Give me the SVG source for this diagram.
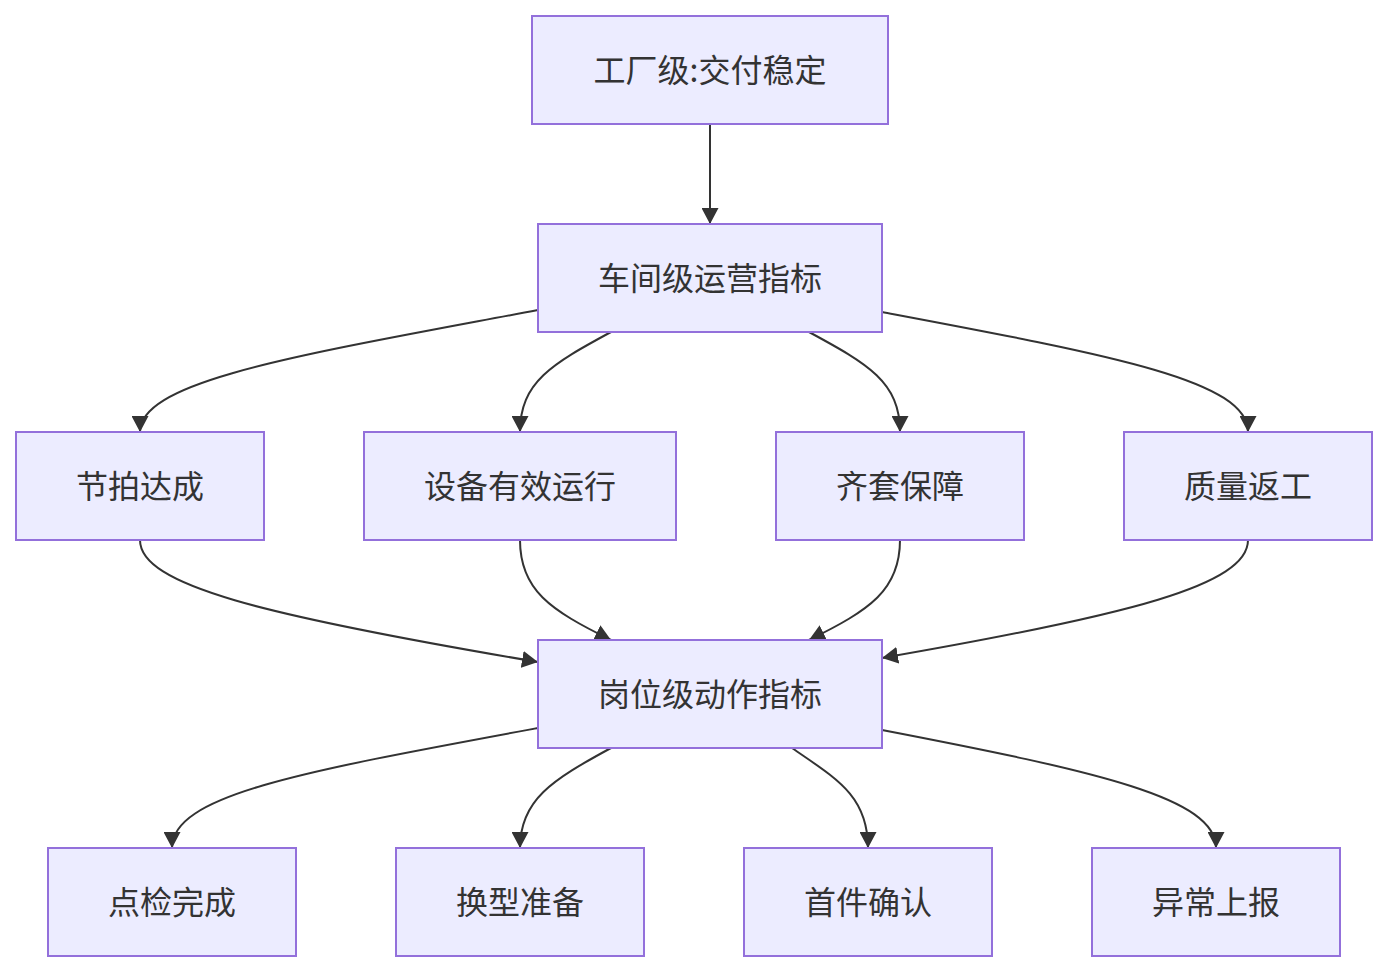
<svg xmlns="http://www.w3.org/2000/svg" width="1388" height="972" viewBox="0 0 1388 972">
<style>
.node rect{fill:#ECECFF;stroke:#9370DB;stroke-width:2}
.node text{font-family:"Noto Sans CJK SC","Noto Sans",sans-serif;font-size:32px;fill:#333;text-anchor:middle;dominant-baseline:central}
.edges path{fill:none;stroke:#333;stroke-width:2;marker-end:url(#arrow)}
</style>
<defs>
<marker id="arrow" viewBox="0 0 10 10" refX="10" refY="5" markerWidth="16" markerHeight="17" markerUnits="userSpaceOnUse" orient="auto" preserveAspectRatio="none">
<path d="M0,0 L10,5 L0,10 z" fill="#333"/>
</marker>
</defs>
<rect width="1388" height="972" fill="#fff"/>
<g class="edges">
<path d="M710,124 L710,224"/>
<path d="M538,310 C300,355 140,380 140,432"/>
<path d="M611,332 C552,364 520,382 520,432"/>
<path d="M809,332 C868,364 900,382 900,432"/>
<path d="M882,312 C1110,355 1248,380 1248,432"/>
<path d="M140,540 C140,585 260,615 538,662"/>
<path d="M520,540 C520,590 550,610 611,640"/>
<path d="M900,540 C900,590 870,610 809,640"/>
<path d="M1248,540 C1248,585 1130,615 882,658"/>
<path d="M538,728 C300,772 172,795 172,848"/>
<path d="M611,748 C552,780 520,800 520,848"/>
<path d="M792,748 C835,778 868,795 868,848"/>
<path d="M882,730 C1100,772 1216,798 1216,848"/>
</g>
<g id="n-factory" class="node"><rect x="532" y="16" width="356" height="108"/><text x="710" y="68">工厂级:交付稳定</text></g>
<g id="n-workshop" class="node"><rect x="538" y="224" width="344" height="108"/><text x="710" y="276">车间级运营指标</text></g>
<g id="n-takt" class="node"><rect x="16" y="432" width="248" height="108"/><text x="140" y="484">节拍达成</text></g>
<g id="n-equip" class="node"><rect x="364" y="432" width="312" height="108"/><text x="520" y="484">设备有效运行</text></g>
<g id="n-kit" class="node"><rect x="776" y="432" width="248" height="108"/><text x="900" y="484">齐套保障</text></g>
<g id="n-quality" class="node"><rect x="1124" y="432" width="248" height="108"/><text x="1248" y="484">质量返工</text></g>
<g id="n-station" class="node"><rect x="538" y="640" width="344" height="108"/><text x="710" y="692">岗位级动作指标</text></g>
<g id="n-check" class="node"><rect x="48" y="848" width="248" height="108"/><text x="172" y="900">点检完成</text></g>
<g id="n-change" class="node"><rect x="396" y="848" width="248" height="108"/><text x="520" y="900">换型准备</text></g>
<g id="n-first" class="node"><rect x="744" y="848" width="248" height="108"/><text x="868" y="900">首件确认</text></g>
<g id="n-abnormal" class="node"><rect x="1092" y="848" width="248" height="108"/><text x="1216" y="900">异常上报</text></g>
</svg>
